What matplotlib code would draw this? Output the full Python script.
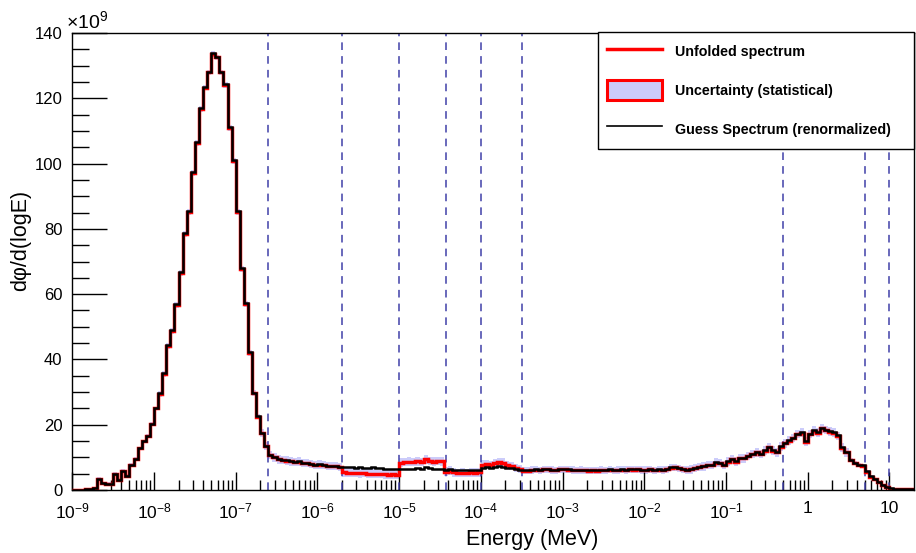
import numpy as np
import matplotlib
matplotlib.use('Agg')
import matplotlib.pyplot as plt
from matplotlib.lines import Line2D
from matplotlib.patches import Patch
from matplotlib.ticker import FixedLocator, MultipleLocator, NullFormatter, FixedFormatter

plt.rcParams['font.family'] = 'Liberation Sans'
plt.rcParams['mathtext.fontset'] = 'custom'
plt.rcParams['mathtext.rm'] = 'Liberation Sans'
plt.rcParams['mathtext.default'] = 'rm'

# 20 bins per decade starting at 1e-9 MeV, values in units of 1e9
bins_per_decade = 20
e_min_exp = -9

unfolded = [
    0.1, 0.1, 0.1, 0.3, 0.4, 0.5, 3.4, 2.0, 1.8, 1.8,
    4.9, 3.1, 5.8, 4.4, 7.7, 9.6, 12.8, 14.9, 16.6, 20.2,
    25.0, 29.4, 35.5, 44.0, 48.8, 56.8, 66.5, 78.3, 85.1, 97.2,
    106.2, 116.7, 123.3, 127.9, 133.6, 132.5, 127.9, 124.1, 111.0, 100.8,
    85.1, 67.8, 57.1, 42.0, 29.7, 22.5, 17.4, 13.5, 10.7, 10.0,
    9.4, 9.2, 9.0, 8.8, 8.6, 8.7, 8.3, 8.2, 8.0, 7.6,
    7.8, 7.6, 7.4, 7.3, 7.4, 7.0, 5.4, 5.3, 5.3, 5.2,
    5.1, 5.2, 5.0, 5.0, 4.9, 4.9, 4.8, 4.7, 4.8, 4.6,
    8.4, 8.6, 8.7, 8.5, 8.8, 8.6, 9.4, 8.9, 8.7, 8.9,
    8.8, 5.6, 5.9, 5.4, 5.2, 5.3, 5.2, 5.4, 5.3, 5.4,
    7.8, 7.9, 7.7, 8.2, 8.6, 8.4, 7.6, 7.3, 6.8, 6.4,
    5.9, 5.9, 6.1, 6.2, 6.0, 6.3, 6.4, 6.1, 6.0, 6.3,
    6.3, 6.2, 6.1, 6.0, 6.1, 6.0, 5.9, 6.0, 5.9, 6.1,
    6.0, 6.2, 6.0, 6.1, 6.2, 6.1, 6.3, 6.2, 6.3, 6.1,
    6.1, 6.3, 6.0, 6.2, 6.1, 6.4, 6.8, 6.9, 6.7, 6.4,
    6.1, 6.3, 6.7, 7.0, 7.2, 7.7, 7.7, 8.4, 8.2, 7.7,
    8.7, 9.4, 8.7, 9.7, 9.7, 10.4, 11.0, 11.5, 11.0, 12.1,
    13.1, 12.1, 11.5, 13.3, 14.3, 15.1, 15.9, 17.2, 17.6, 14.8,
    17.2, 18.2, 17.6, 18.9, 18.4, 17.9, 17.6, 16.6, 13.0, 11.5,
    9.2, 8.2, 7.7, 7.5, 5.6, 4.1, 3.3, 2.3, 1.5, 0.8,
    0.4, 0.3, 0.2, 0.2, 0.2, 0.2,
]

guess = [
    0.1, 0.1, 0.1, 0.3, 0.4, 0.5, 3.4, 2.0, 1.8, 1.8,
    4.9, 3.1, 5.8, 4.4, 7.7, 9.6, 12.8, 14.9, 16.6, 20.3,
    25.1, 29.6, 35.7, 44.3, 49.1, 57.1, 66.8, 78.6, 85.4, 97.5,
    106.5, 117.0, 123.6, 128.2, 133.9, 132.8, 128.2, 124.4, 111.3, 101.1,
    85.4, 68.0, 57.3, 42.2, 29.8, 22.6, 17.5, 13.6, 10.8, 10.1,
    9.5, 9.3, 9.1, 8.9, 8.7, 8.8, 8.4, 8.3, 8.1, 7.7,
    7.9, 7.7, 7.5, 7.4, 7.5, 7.1, 7.0, 7.0, 6.9, 6.8,
    7.1, 6.8, 6.7, 6.9, 6.6, 6.7, 6.5, 6.4, 6.4, 6.3,
    6.3, 6.4, 6.5, 6.4, 6.6, 6.5, 7.0, 6.6, 6.4, 6.5,
    6.5, 6.1, 6.4, 6.0, 6.2, 6.1, 6.0, 6.2, 6.0, 6.1,
    6.8, 7.0, 6.7, 7.1, 7.3, 7.1, 6.8, 6.6, 6.4, 6.2,
    6.0, 6.0, 6.2, 6.3, 6.1, 6.4, 6.5, 6.2, 6.1, 6.4,
    6.4, 6.3, 6.2, 6.1, 6.2, 6.1, 6.0, 6.1, 6.0, 6.2,
    6.1, 6.3, 6.1, 6.2, 6.3, 6.2, 6.4, 6.3, 6.4, 6.2,
    6.2, 6.4, 6.1, 6.3, 6.2, 6.5, 6.9, 7.0, 6.8, 6.5,
    6.2, 6.4, 6.8, 7.1, 7.3, 7.8, 7.8, 8.5, 8.3, 7.8,
    8.8, 9.5, 8.8, 9.8, 9.8, 10.5, 11.1, 11.6, 11.1, 12.2,
    13.2, 12.2, 11.6, 13.4, 14.4, 15.2, 16.0, 17.3, 17.7, 14.9,
    17.3, 18.3, 17.7, 19.0, 18.5, 18.0, 17.7, 16.7, 13.1, 11.6,
    9.3, 8.3, 7.8, 7.6, 5.7, 4.2, 3.4, 2.4, 1.6, 0.9,
    0.5, 0.3, 0.2, 0.2, 0.2, 0.2,
]

# half width of the statistical band
sigma = ([0.1] * 6 + [0.5] * 15 + [0.9] * 25 + [1.3] * 64
         + [1.1] * 40 + [1.3] * 40 + [0.6] * 6 + [0.2] * 10)

dashed_lines = [2.5e-7, 2.0e-6, 1.0e-5, 3.7e-5, 1.0e-4, 3.2e-4, 0.5, 5.0, 10.0]

x_major = [1e-9, 1e-8, 1e-7, 1e-6, 1e-5, 1e-4, 1e-3, 1e-2, 1e-1, 1, 10]
x_labels = [r'$10^{-9}$', r'$10^{-8}$', r'$10^{-7}$', r'$10^{-6}$', r'$10^{-5}$',
            r'$10^{-4}$', r'$10^{-3}$', r'$10^{-2}$', r'$10^{-1}$', '1', '10']

unfolded = np.array(unfolded)
guess = np.array(guess)
sigma = np.array(sigma)
edges = 10.0 ** (e_min_exp + np.arange(len(unfolded) + 1) / bins_per_decade)

W, H = 916, 553
fig = plt.figure(figsize=(W / 100, H / 100), dpi=100)
x0, x1, ytop, ybot = 72.3, 914, 33, 490
ax = fig.add_axes([x0 / W, 1 - ybot / H, (x1 - x0) / W, (ybot - ytop) / H])

band_col = '#ccccfa'
ax.stairs(unfolded + sigma, edges, baseline=np.clip(unfolded - sigma, 0, None),
          fill=True, color=band_col, lw=0, zorder=1)
for e in dashed_lines:
    ax.axvline(e, color='#4040a8', lw=1.1, ls=(0, (5, 4)), zorder=2)
ax.stairs(unfolded, edges, baseline=None, color='red', lw=2.5, zorder=3)
ax.stairs(guess, edges, baseline=None, color='black', lw=1.8, zorder=4)

ax.set_xscale('log')
ax.set_xlim(1e-9, 20)
ax.set_ylim(0, 140)
minor = [m * d for d in x_major for m in range(2, 10) if m * d < 20]
ax.xaxis.set_major_locator(FixedLocator(x_major))
ax.xaxis.set_major_formatter(FixedFormatter(x_labels))
ax.xaxis.set_minor_locator(FixedLocator(minor))
ax.xaxis.set_minor_formatter(NullFormatter())
ax.yaxis.set_major_locator(MultipleLocator(20))
ax.yaxis.set_minor_locator(MultipleLocator(5))

ax.tick_params(axis='both', which='both', direction='in', top=False, right=False,
               colors='black', width=1)
ax.tick_params(axis='x', which='major', length=13, pad=8, labelsize=12.5)
ax.tick_params(axis='x', which='minor', length=7)
ax.tick_params(axis='y', which='major', length=25, pad=7, labelsize=12)
ax.tick_params(axis='y', which='minor', length=12.5)
for s in ax.spines.values():
    s.set_linewidth(1)

ax.set_xlabel('Energy (MeV)', fontsize=15.5)
ax.xaxis.set_label_coords((532 - x0) / (x1 - x0), -(529 - ybot) / (ybot - ytop))
ax.set_ylabel('d\u03c6/d(logE)', fontsize=15.5)
ax.yaxis.set_label_coords((10 - x0) / (x1 - x0), (ybot - 240) / (ybot - ytop))
ax.yaxis.label.set_verticalalignment('top')
ax.text((66 - x0) / (x1 - x0), 1.003, r'$\times10^{9}$', transform=ax.transAxes,
        fontsize=14, ha='left', va='bottom')

handles = [Line2D([], [], color='red', lw=2.5),
           Patch(facecolor=band_col, edgecolor='red', lw=2.2),
           Line2D([], [], color='black', lw=1.2)]
labels = ['Unfolded spectrum', 'Uncertainty (statistical)', 'Guess Spectrum (renormalized)']
leg = ax.legend(handles, labels, loc='upper left', mode='expand',
                bbox_to_anchor=(598 / W, 1 - 147 / H, 316 / W, 115 / H),
                bbox_transform=fig.transFigure, borderaxespad=0,
                prop={'weight': 'bold', 'size': 10.3}, frameon=True, fancybox=False,
                edgecolor='black', framealpha=1, handlelength=3.85, handleheight=1.8,
                handletextpad=0.9, labelspacing=1.3, borderpad=0.65)
leg.get_frame().set_linewidth(1)
leg.set_zorder(10)

fig.savefig('out.png', dpi=100)
